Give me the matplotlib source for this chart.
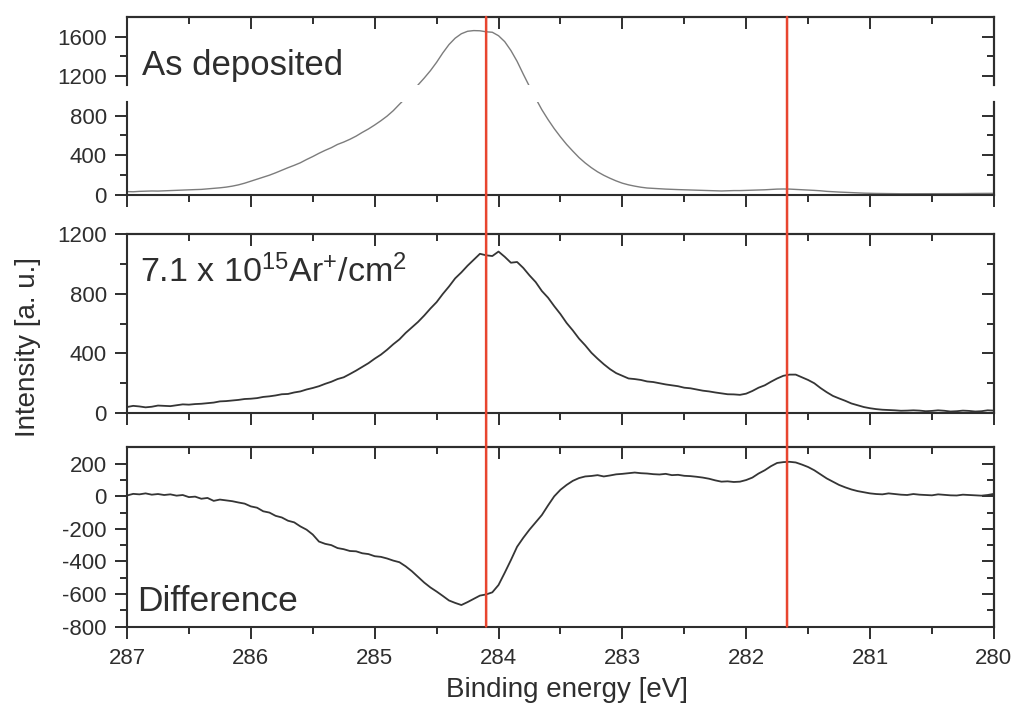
import matplotlib
matplotlib.use("Agg")
import matplotlib.pyplot as plt
from matplotlib.ticker import MultipleLocator, FixedLocator, NullFormatter
from matplotlib.patches import ConnectionPatch

plt.rcParams['font.family'] = ['Liberation Sans', 'DejaVu Sans']
plt.rcParams['mathtext.fontset'] = 'custom'
plt.rcParams['mathtext.rm'] = 'Liberation Sans'
plt.rcParams['mathtext.it'] = 'Liberation Sans:italic'
plt.rcParams['mathtext.bf'] = 'Liberation Sans:bold'
plt.rcParams['axes.unicode_minus'] = False

# binding energy sampling (eV), 287 -> 280 in 0.05 eV steps
energy = [round(287 - 0.05 * i, 2) for i in range(141)]

# as deposited
as_dep = [30, 28, 32, 34, 36, 35, 38, 40, 42, 45,
          48, 50, 52, 57, 62, 68, 75, 85, 98, 115,
          135, 154, 175, 196, 220, 246, 272, 296, 322, 355,
          385, 418, 448, 475, 508, 532, 560, 592, 630, 665,
          705, 748, 795, 850, 915, 978, 1045, 1110, 1180, 1255,
          1340, 1435, 1520, 1585, 1630, 1655, 1662, 1660, 1650, 1645,
          1610, 1550, 1460, 1350, 1220, 1095, 975, 860, 760, 668,
          585, 508, 440, 375, 320, 272, 230, 195, 165, 138,
          115, 98, 85, 74, 66, 62, 58, 55, 52, 50,
          48, 47, 45, 42, 40, 38, 36, 38, 40, 40,
          42, 44, 46, 48, 52, 55, 56, 55, 52, 48,
          45, 42, 38, 32, 28, 25, 22, 18, 16, 14,
          12, 11, 10, 9, 8, 8, 8, 7, 7, 8,
          8, 9, 8, 9, 9, 10, 10, 11, 11, 12,
          12]

# after 7.1e15 Ar+/cm2
irradiated = [40, 48, 44, 38, 42, 50, 48, 46, 52, 58,
              56, 60, 62, 66, 70, 78, 80, 84, 88, 94,
              96, 100, 108, 112, 118, 126, 128, 138, 145, 158,
              168, 180, 196, 210, 228, 240, 262, 285, 310, 335,
              365, 392, 425, 462, 495, 538, 575, 612, 655, 702,
              745, 800, 850, 905, 945, 990, 1030, 1070, 1060, 1055,
              1085, 1050, 1010, 1015, 975, 925, 880, 820, 775, 718,
              665, 605, 555, 500, 455, 405, 365, 328, 295, 268,
              250, 232, 228, 222, 212, 208, 200, 192, 186, 180,
              170, 166, 158, 150, 145, 138, 132, 126, 125, 122,
              130, 148, 170, 186, 210, 232, 250, 258, 258, 240,
              222, 200, 168, 140, 115, 98, 82, 64, 52, 40,
              32, 26, 22, 20, 18, 15, 16, 18, 16, 12,
              14, 18, 15, 10, 12, 16, 14, 10, 12, 18,
              16]

# difference
diff = [5, 15, 12, 18, 10, 14, 8, 12, 4, 8,
        -5, -2, -15, -10, -28, -20, -25, -30, -38, -45,
        -62, -70, -92, -100, -120, -130, -150, -160, -185, -205,
        -235, -278, -292, -300, -318, -325, -336, -338, -350, -355,
        -368, -372, -382, -395, -405, -430, -460, -495, -530, -560,
        -585, -612, -640, -655, -668, -650, -630, -610, -603, -590,
        -545, -470, -392, -310, -255, -205, -160, -115, -56, 0,
        40, 70, 95, 112, 122, 125, 130, 122, 128, 135,
        138, 142, 146, 142, 140, 136, 134, 138, 130, 132,
        126, 124, 120, 115, 108, 98, 90, 92, 88, 90,
        100, 115, 140, 160, 185, 205, 210, 212, 208, 195,
        180, 160, 135, 110, 90, 70, 55, 42, 32, 25,
        18, 14, 12, 18, 14, 10, 8, 14, 10, 8,
        6, 12, 9, 6, 5, 10, 8, 6, 4, 8,
        15]

peak_lines = [284.1, 281.67]

ink = '#2e2e2e'
red = '#e8452f'

fig = plt.figure(figsize=(10.21, 7.17), dpi=100)
L, W = 0.1244, 0.849


def frame(ax, ymajor, yminor, top=True, bottom=True, xlabels=False):
    ax.set_xlim(287, 280)
    ax.xaxis.set_major_locator(MultipleLocator(1))
    ax.xaxis.set_minor_locator(MultipleLocator(0.5))
    ax.yaxis.set_major_locator(FixedLocator(ymajor))
    ax.yaxis.set_minor_locator(FixedLocator(yminor))
    for s in ax.spines.values():
        s.set_linewidth(1.5)
        s.set_color(ink)
    ax.spines['top'].set_visible(top)
    ax.spines['bottom'].set_visible(bottom)
    ax.tick_params(which='both', direction='out', top=False, right=False,
                   bottom=bottom, width=1.4, color=ink, labelsize=16,
                   labelcolor=ink)
    ax.tick_params(which='major', length=8.5)
    ax.tick_params(which='minor', length=5)
    ax.tick_params(axis='y', pad=6)
    ax.tick_params(axis='x', pad=7, labelbottom=xlabels)
    # inward ticks on top and right
    sy = ax.secondary_yaxis('right')
    sy.yaxis.set_major_locator(FixedLocator(ymajor))
    sy.yaxis.set_minor_locator(FixedLocator(yminor))
    sy.yaxis.set_major_formatter(NullFormatter())
    sy.tick_params(which='both', direction='in', width=1.4, color=ink)
    sy.tick_params(which='major', length=8.5)
    sy.tick_params(which='minor', length=5)
    sy.spines['right'].set_linewidth(1.5)
    sy.spines['right'].set_color(ink)
    if top:
        sx = ax.secondary_xaxis('top')
        sx.xaxis.set_major_locator(MultipleLocator(1))
        sx.xaxis.set_minor_locator(MultipleLocator(0.5))
        sx.xaxis.set_major_formatter(NullFormatter())
        sx.tick_params(which='both', direction='in', width=1.4, color=ink)
        sx.tick_params(which='major', length=8.5)
        sx.tick_params(which='minor', length=5)
        sx.spines['top'].set_linewidth(1.5)
        sx.spines['top'].set_color(ink)


# top panel, broken y axis
ax_hi = fig.add_axes([L, 0.8808, W, 0.0955])
ax_lo = fig.add_axes([L, 0.7287, W, 0.1293])
for ax in (ax_hi, ax_lo):
    ax.plot(energy, as_dep, color='#7c7c7c', lw=1.0)
ax_hi.set_ylim(1105, 1800)
ax_lo.set_ylim(0, 940)
frame(ax_hi, [1200, 1600], [1400], top=True, bottom=False)
frame(ax_lo, [0, 400, 800], [200, 600], top=False, bottom=True)

# middle panel
ax_mid = fig.add_axes([L, 0.424, W, 0.249])
ax_mid.plot(energy, irradiated, color='#353535', lw=1.3)
ax_mid.set_ylim(0, 1200)
frame(ax_mid, [0, 400, 800, 1200], [200, 600, 1000])

# bottom panel
ax_dif = fig.add_axes([L, 0.1262, W, 0.2497])
ax_dif.plot(energy, diff, color='#353535', lw=1.3)
ax_dif.set_ylim(-800, 300)
frame(ax_dif, [-800, -600, -400, -200, 0, 200],
      [-700, -500, -300, -100, 100], xlabels=True)

# red guide lines through all panels
for e in peak_lines:
    con = ConnectionPatch(xyA=(e, 1800), coordsA=ax_hi.transData,
                          xyB=(e, -800), coordsB=ax_dif.transData,
                          color=red, lw=1.8, zorder=10)
    fig.add_artist(con)

fig.text(142 / 1021, 1 - 75 / 717, 'As deposited', fontsize=25,
         color=ink, va='baseline')
fig.text(140 / 1021, 1 - 282 / 717,
         '7.1 x 10$^{15}$Ar$^{+}$/cm$^{2}$', fontsize=24.5, color=ink,
         va='baseline')
fig.text(137 / 1021, 1 - 611 / 717, 'Difference', fontsize=25.5,
         color=ink, va='baseline')

fig.text(28 / 1021, 1 - 347 / 717, 'Intensity [a. u.]', rotation=90,
         ha='center', va='center', fontsize=20, color=ink)
fig.text(567 / 1021, 1 - 690 / 717, 'Binding energy [eV]',
         ha='center', va='center', fontsize=20, color=ink)

fig.savefig('out.png', dpi=100)
